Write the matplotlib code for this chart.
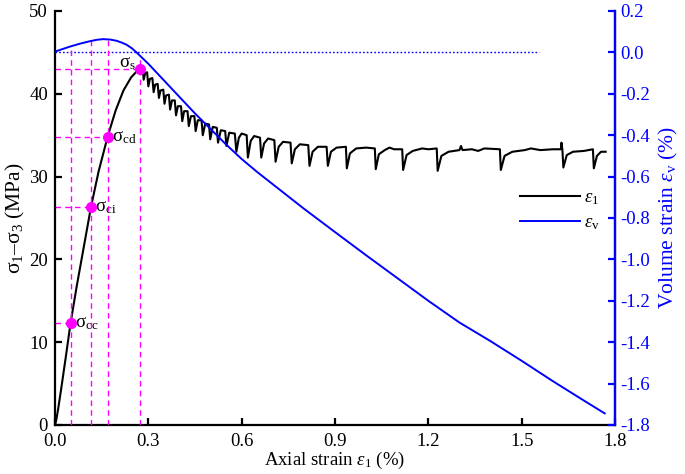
import numpy as np
import matplotlib
matplotlib.use('Agg')
import matplotlib.pyplot as plt

plt.rcParams['font.family'] = 'Liberation Serif'
plt.rcParams['mathtext.fontset'] = 'custom'
plt.rcParams['mathtext.rm'] = 'Liberation Serif'
plt.rcParams['mathtext.it'] = 'Liberation Serif:italic'
plt.rcParams['axes.unicode_minus'] = False

# deviatoric stress vs axial strain
axial_strain = [
    0.000, 0.004, 0.010, 0.020, 0.035, 0.050, 0.070, 0.090, 0.1155, 0.140,
    0.169, 0.195, 0.220, 0.245, 0.265, 0.277, 0.282,
    0.285, 0.290, 0.296, 0.300, 0.305, 0.313, 0.317, 0.322, 0.330,
    0.334, 0.339, 0.348, 0.352, 0.357, 0.366, 0.370, 0.376, 0.385,
    0.389, 0.395, 0.405, 0.409, 0.415, 0.426, 0.430, 0.437, 0.448,
    0.452, 0.459, 0.471, 0.475, 0.483, 0.495, 0.499, 0.507, 0.520,
    0.524, 0.533, 0.547, 0.551, 0.560, 0.578,
    0.583, 0.591, 0.600, 0.616, 0.620, 0.629, 0.640, 0.659,
    0.663, 0.672, 0.685, 0.705, 0.709, 0.719, 0.733, 0.757,
    0.761, 0.771, 0.787, 0.814, 0.818, 0.828, 0.845, 0.873,
    0.877, 0.887, 0.905, 0.935, 0.938, 0.948, 0.968, 1.000, 1.028,
    1.031, 1.041, 1.060, 1.075, 1.090, 1.116, 1.119, 1.130, 1.150, 1.180,
    1.200, 1.227, 1.230, 1.242, 1.265, 1.300, 1.305, 1.310, 1.340,
    1.360, 1.380, 1.430, 1.433, 1.445, 1.470, 1.510, 1.530, 1.560, 1.600, 1.626,
    1.628, 1.631, 1.634, 1.645, 1.665, 1.700, 1.729, 1.732, 1.742,
    1.755, 1.770,
]
stress = [
    0.0, 0.6, 1.9, 4.4, 8.3, 12.3, 16.8, 21.0, 26.3, 30.6,
    34.8, 38.0, 40.4, 42.0, 42.8, 43.2, 43.0,
    41.7, 42.5, 42.6, 40.9, 41.8, 41.9, 40.2, 41.1, 41.2,
    39.5, 40.4, 40.5, 38.8, 39.8, 39.9, 38.1, 39.2, 39.2,
    37.4, 38.5, 38.5, 36.7, 37.9, 37.9, 36.1, 37.3, 37.3,
    35.5, 36.8, 36.8, 35.0, 36.4, 36.3, 34.5, 36.0, 35.9,
    34.1, 35.6, 35.5, 33.7, 35.3, 35.2,
    33.0, 34.7, 35.2, 35.0, 32.3, 34.3, 34.9, 34.7,
    32.3, 34.0, 34.6, 34.4, 31.8, 33.6, 34.2, 34.1,
    31.6, 33.3, 33.9, 33.8, 31.3, 33.0, 33.6, 33.6,
    31.3, 33.0, 33.5, 33.6, 31.0, 32.8, 33.4, 33.5, 33.4,
    30.9, 32.7, 33.2, 33.5, 33.3, 33.3, 30.8, 32.6, 33.1, 33.4,
    33.3, 33.4, 30.7, 32.5, 33.0, 33.2, 33.7, 33.2, 33.3,
    33.1, 33.4, 33.3, 30.8, 32.5, 33.0, 33.2, 33.4, 33.2, 33.3, 33.3,
    34.1, 33.2, 31.1, 32.6, 33.0, 33.1, 33.3, 31.0, 32.5,
    33.0, 33.0,
]

# volumetric strain vs axial strain
vol_axial = [
    0.000, 0.048, 0.080, 0.112, 0.135, 0.155, 0.178, 0.198, 0.215, 0.230,
    0.247, 0.262, 0.300, 0.350, 0.400, 0.450, 0.500, 0.550, 0.600, 0.650,
    0.700, 0.800, 0.900, 1.000, 1.100, 1.200, 1.300, 1.400, 1.500, 1.600,
    1.700, 1.767,
]
vol_strain = [
    0.004, 0.028, 0.042, 0.054, 0.061, 0.064, 0.062, 0.056, 0.047, 0.037,
    0.020, 0.000, -0.055, -0.135, -0.215, -0.295, -0.370, -0.445, -0.515, -0.578,
    -0.637, -0.755, -0.868, -0.980, -1.090, -1.200, -1.305, -1.395, -1.490, -1.588,
    -1.682, -1.744,
]

# characteristic stresses
char_names = ['cc', 'ci', 'cd', 's']
char_strain = [0.050, 0.1155, 0.169, 0.273]
char_stress = [12.3, 26.3, 34.8, 43.0]

magenta = '#ff00ff'
blue = '#0000ff'

fig = plt.figure(figsize=(6.85, 4.74), dpi=100)
ax = fig.add_axes([0.0803, 0.1034, 0.8175, 0.8734])
ax2 = ax.twinx()

l1, = ax.plot(axial_strain, stress, color='black', lw=1.5, zorder=3)
l2, = ax2.plot(vol_axial, vol_strain, color=blue, lw=1.4, zorder=3)
ax2.plot([0, 1.556], [0, 0], color=blue, lw=1.0, ls=(0, (1.2, 1.5)))

# guide lines for the characteristic stresses
for name, xs, ys in zip(char_names, char_strain, char_stress):
    ax.plot([0, xs], [ys, ys], color=magenta, lw=1.0, ls=(0, (4, 3)), zorder=2)
    top = np.interp(xs, vol_axial, vol_strain)
    ax2.plot([xs, xs], [-1.8, top], color=magenta, lw=1.0, ls=(0, (4, 3)), zorder=2)
    ax.plot(xs, ys, 'o', color=magenta, ms=7, zorder=4)
    label = r'σ$_{\mathrm{%s}}$' % name
    if name == 's':
        ax.annotate(label, (xs, ys), xytext=(-3, 4), textcoords='offset points',
                    ha='right', va='center', fontsize=13.5)
    else:
        ax.annotate(label, (xs, ys), xytext=(3, 0), textcoords='offset points',
                    ha='left', va='center', fontsize=13.5)

ax.set_xlim(0, 1.8)
ax.set_ylim(0, 50)
ax2.set_ylim(-1.8, 0.2)
ax.set_xticks(np.arange(0, 1.81, 0.3))
ax.set_xticklabels(['%.1f' % v for v in np.arange(0, 1.81, 0.3)])
ax.set_yticks(range(0, 51, 10))
ax2.set_yticks(np.arange(-1.8, 0.21, 0.2))
ax2.set_yticklabels(['%.1f' % (v + 0.0) for v in np.round(np.arange(-1.8, 0.21, 0.2), 1)])

ax.tick_params(direction='in', length=5, width=1.6, labelsize=13.5)
ax.tick_params(axis='x', pad=6)
ax.tick_params(axis='y', pad=5)
ax2.tick_params(direction='in', length=5, width=1.6, labelsize=13.5, colors=blue, pad=4)

for a in (ax, ax2):
    a.spines['top'].set_visible(False)
    for s in a.spines.values():
        s.set_linewidth(1.6)
ax2.spines['right'].set_color(blue)
ax2.spines['left'].set_visible(False)
ax2.spines['bottom'].set_visible(False)

ax.set_xlabel(r'Axial strain $\varepsilon_{\mathrm{1}}$ (%)', fontsize=13.5, labelpad=0)
ax.set_ylabel(r'σ$_{\mathrm{1}}$–σ$_{\mathrm{3}}$ (MPa)', fontsize=15.5, labelpad=2)
ax2.set_ylabel(r'Volume strain $\varepsilon_{\mathrm{v}}$ (%)', fontsize=15.5,
               color=blue, labelpad=5)

ax2.legend([l1, l2], [r'$\varepsilon_{\mathrm{1}}$', r'$\varepsilon_{\mathrm{v}}$'],
           loc='center left', bbox_to_anchor=(0.8, 0.518), frameon=False,
           fontsize=13.5, handlelength=3.2, labelspacing=0.4, handletextpad=0.2)

fig.savefig('out.png', dpi=100)
